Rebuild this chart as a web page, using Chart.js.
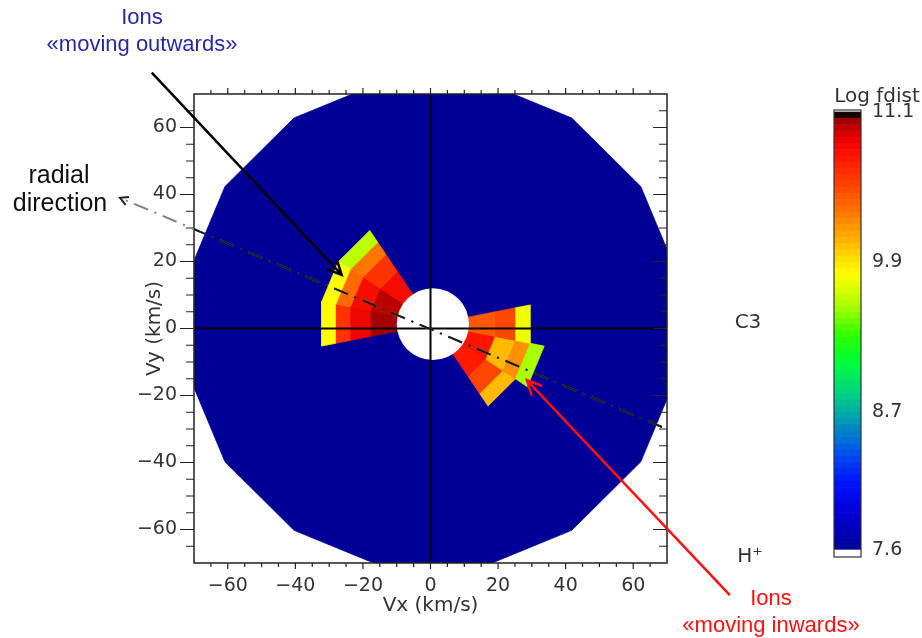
<!DOCTYPE html>
<html>
<head>
<meta charset="utf-8">
<script src="https://cdn.jsdelivr.net/npm/chart.js@4.4.0/dist/chart.umd.min.js"></script>
<style>
  body { margin: 0; background: #fff; }
  #wrap { position: relative; width: 922px; height: 638px; }
  #wrap canvas { position: absolute; left: 0; top: 0; }
</style>
</head>
<body>
<div id="wrap">
  <canvas id="vdist" width="922" height="638"></canvas>
  <canvas id="cbar" width="922" height="638"></canvas>
</div>
<script>
// velocity-space bins: azimuth edges (deg) and speed ring edges (km/s)
const phiEdges = [11.25, 33.75, 56.25, 78.75, 101.25, 123.75, 146.25, 168.75, 191.25,
                  213.75, 236.25, 258.75, 281.25, 303.75, 326.25, 348.75, 371.25];
const speedEdges = [10.7, 18.9, 25.0, 29.4, 33.6];
const coreSpeed = 10.7;
const speedMax = 74;
const center = [0.7, 1.3];

// log fdist per speed ring (inner -> outer); null = at the floor
const fdist124 = [10.8, 10.6, 10.3, 9.6];    // 123.75 - 146.25 deg
const fdist146 = [10.98, 10.8, 10.35, 9.8];  // 146.25 - 168.75 deg
const fdist169 = [11.02, 10.85, 10.6, 9.8];  // 168.75 - 191.25 deg
const fdist304 = [10.72, 10.5, 10.05, null]; // 303.75 - 326.25 deg
const fdist326 = [10.75, 10.05, 10.2, 9.55]; // 326.25 - 348.75 deg
const fdist349 = [10.42, 10.5, 9.75, null];  // 348.75 - 371.25 deg
const cellRows = [[5, fdist124], [6, fdist146], [7, fdist169], [13, fdist304], [14, fdist326], [15, fdist349]];

// axis ticks
const majorTicks = [-60, -40, -20, 0, 20, 40, 60];

// colour scale
const cbarMin = 7.6, cbarMax = 11.1;
const cbarTicks = [7.6, 8.7, 9.9, 11.1];
const cmapLevels = [7.6, 7.9, 8.15, 8.4, 8.65, 8.85, 9.1, 9.3, 9.55, 9.8, 10.0, 10.25, 10.5, 10.75, 10.9, 11.03, 11.07, 11.1];
const cmapColors = [[0,0,150],[0,0,215],[0,20,255],[0,90,230],[0,160,175],[0,210,130],[0,255,60],[40,255,0],
                    [170,255,0],[255,255,0],[255,200,0],[255,130,0],[255,70,0],[255,20,0],[230,0,0],[160,0,0],[30,0,0],[0,0,0]];

// radial direction and annotation arrows, in km/s
const radialFrom = [68.5, -29.4], radialTo = [-91.9, 39.0];
const outArrow = [[-82.5, 76.4], [-26.3, 16.0]];
const inArrow = [[88.6, -79.6], [28.5, -15.4]];

const idlFont = '"DejaVu Sans", sans-serif';
const textColor = '#333';
const tickFont = { family: idlFont, size: 19 };
const titleFont = { family: idlFont, size: 20 };

function colorFor(v) {
  v = Math.min(cbarMax, Math.max(cbarMin, v));
  let i = 0;
  while (i < cmapLevels.length - 2 && v > cmapLevels[i + 1]) i++;
  const t = (v - cmapLevels[i]) / (cmapLevels[i + 1] - cmapLevels[i]);
  const c = cmapColors[i].map((a, j) => Math.round(a + (cmapColors[i + 1][j] - a) * t));
  return `rgb(${c[0]},${c[1]},${c[2]})`;
}

function polar(r, deg) {
  const a = deg * Math.PI / 180;
  return [center[0] + r * Math.cos(a), center[1] + r * Math.sin(a)];
}

function toPx(chart, p) {
  return [chart.scales.x.getPixelForValue(p[0]), chart.scales.y.getPixelForValue(p[1])];
}

function fillPoly(ctx, chart, pts, color) {
  ctx.beginPath();
  pts.forEach((p, i) => {
    const [px, py] = toPx(chart, p);
    if (i === 0) ctx.moveTo(px, py); else ctx.lineTo(px, py);
  });
  ctx.closePath();
  ctx.fillStyle = color;
  ctx.strokeStyle = color;
  ctx.lineWidth = 0.8;
  ctx.fill();
  ctx.stroke();
}

function drawArrow(ctx, x0, y0, x1, y1, color, width, head) {
  const a = Math.atan2(y1 - y0, x1 - x0);
  ctx.strokeStyle = color;
  ctx.lineWidth = width;
  ctx.setLineDash([]);
  ctx.beginPath();
  ctx.moveTo(x0, y0);
  ctx.lineTo(x1, y1);
  ctx.moveTo(x1 - head * Math.cos(a - 0.45), y1 - head * Math.sin(a - 0.45));
  ctx.lineTo(x1, y1);
  ctx.lineTo(x1 - head * Math.cos(a + 0.45), y1 - head * Math.sin(a + 0.45));
  ctx.stroke();
}

function tickLabel(v) {
  return v < 0 ? '\u2212' + Math.abs(v) : String(v);
}

function radialLine(ctx, x0, y0, x1, y1, color) {
  ctx.strokeStyle = color;
  ctx.lineWidth = 2;
  ctx.setLineDash([15, 7, 2, 7]);
  ctx.beginPath();
  ctx.moveTo(x0, y0);
  ctx.lineTo(x1, y1);
  ctx.stroke();
  ctx.setLineDash([]);
}

const distPlugin = {
  id: 'vdist',
  beforeDatasetsDraw(chart) {
    const { ctx, chartArea: a } = chart;
    ctx.save();
    ctx.beginPath();
    ctx.rect(a.left, a.top, a.right - a.left, a.bottom - a.top);
    ctx.clip();

    // floor level over the whole measured disc
    const rim = phiEdges.slice(0, -1).map(p => polar(speedMax, p));
    fillPoly(ctx, chart, rim, colorFor(cbarMin));

    cellRows.forEach(([k, vals]) => {
      vals.forEach((v, i) => {
        if (v == null) return;
        const p0 = phiEdges[k], p1 = phiEdges[k + 1];
        const r0 = speedEdges[i], r1 = speedEdges[i + 1];
        fillPoly(ctx, chart, [polar(r0, p0), polar(r1, p0), polar(r1, p1), polar(r0, p1)], colorFor(v));
      });
    });

    // no data below the lowest energy step
    const [cx, cy] = toPx(chart, center);
    const rx = chart.scales.x.getPixelForValue(center[0] + coreSpeed) - cx;
    const ry = cy - chart.scales.y.getPixelForValue(center[1] + coreSpeed);
    ctx.fillStyle = '#fff';
    ctx.beginPath();
    ctx.ellipse(cx, cy, rx, ry, 0, 0, 2 * Math.PI);
    ctx.fill();

    // Vx = 0 and Vy = 0
    const x0 = chart.scales.x.getPixelForValue(0);
    const y0 = chart.scales.y.getPixelForValue(0);
    ctx.strokeStyle = '#000';
    ctx.lineWidth = 2;
    ctx.beginPath();
    ctx.moveTo(x0, a.top); ctx.lineTo(x0, a.bottom);
    ctx.moveTo(a.left, y0); ctx.lineTo(a.right, y0);
    ctx.stroke();
    ctx.restore();
  },
  afterDraw(chart) {
    const { ctx, chartArea: a, scales: { x, y } } = chart;
    ctx.save();

    // frame and ticks
    ctx.strokeStyle = '#222';
    ctx.lineWidth = 1.5;
    ctx.strokeRect(a.left, a.top, a.right - a.left, a.bottom - a.top);
    ctx.lineWidth = 1.2;
    ctx.beginPath();
    for (let v = -65; v <= 65; v += 5) {
      const major = v % 20 === 0;
      const px = x.getPixelForValue(v), py = y.getPixelForValue(v);
      const tb = major ? 6 : 4, tl = major ? 14 : 8;
      ctx.moveTo(px, a.bottom); ctx.lineTo(px, a.bottom + tb);
      ctx.moveTo(px, a.top); ctx.lineTo(px, a.top - tb);
      ctx.moveTo(a.left, py); ctx.lineTo(a.left - tl, py);
      ctx.moveTo(a.right, py); ctx.lineTo(a.right - tl, py);
    }
    ctx.stroke();

    // radial direction: grey outside the frame, dark inside
    const [rx0, ry0] = toPx(chart, radialFrom);
    const [rx1, ry1] = toPx(chart, radialTo);
    radialLine(ctx, rx0, ry0, rx1, ry1, '#808080');
    ctx.save();
    ctx.beginPath();
    ctx.rect(a.left, a.top, a.right - a.left, a.bottom - a.top);
    ctx.clip();
    radialLine(ctx, rx0, ry0, rx1, ry1, '#1a1a1a');
    ctx.restore();
    const ra = Math.atan2(ry1 - ry0, rx1 - rx0);
    ctx.strokeStyle = '#222';
    ctx.lineWidth = 2;
    ctx.beginPath();
    ctx.moveTo(rx1 - 9 * Math.cos(ra - 0.5), ry1 - 9 * Math.sin(ra - 0.5));
    ctx.lineTo(rx1, ry1);
    ctx.lineTo(rx1 - 9 * Math.cos(ra + 0.5), ry1 - 9 * Math.sin(ra + 0.5));
    ctx.stroke();

    // ion population arrows
    const [ox0, oy0] = toPx(chart, outArrow[0]);
    const [ox1, oy1] = toPx(chart, outArrow[1]);
    drawArrow(ctx, ox0, oy0, ox1, oy1, '#000', 2.5, 16);
    const [ix0, iy0] = toPx(chart, inArrow[0]);
    const [ix1, iy1] = toPx(chart, inArrow[1]);
    drawArrow(ctx, ix0, iy0, ix1, iy1, '#ff1010', 2.5, 16);

    // labels
    ctx.textAlign = 'center';
    ctx.textBaseline = 'middle';
    ctx.font = '22px "Liberation Sans", Arial, sans-serif';
    ctx.fillStyle = '#2828a6';
    ctx.fillText('Ions', 142, 18);
    ctx.fillText('«moving outwards»', 142, 45);
    ctx.fillStyle = '#ff1010';
    ctx.fillText('Ions', 771, 599);
    ctx.fillText('«moving inwards»', 771, 626);
    ctx.font = '25px "Liberation Sans", Arial, sans-serif';
    ctx.fillStyle = '#111';
    ctx.fillText('radial', 59, 176);
    ctx.fillText('direction', 60, 204);

    ctx.font = `20px ${idlFont}`;
    ctx.fillStyle = textColor;
    ctx.fillText('C3', 748, 323);
    ctx.fillText('H\u207A', 750, 557);
    ctx.fillText('Log fdist', 877, 97);
    ctx.restore();
  }
};

new Chart(document.getElementById('vdist'), {
  type: 'scatter',
  data: { datasets: [] },
  options: {
    responsive: false,
    animation: false,
    events: [],
    layout: { padding: { left: 110, top: 94, right: 255, bottom: 18 } },
    plugins: { legend: { display: false }, tooltip: { enabled: false } },
    scales: {
      x: {
        type: 'linear', position: 'bottom', min: -70, max: 70,
        afterBuildTicks: s => { s.ticks = majorTicks.map(v => ({ value: v })); },
        afterFit: s => { s.height = 57; },
        grid: { display: false, drawTicks: false },
        border: { display: false },
        ticks: { callback: tickLabel, padding: 12, maxRotation: 0, autoSkip: false,
                 font: tickFont, color: textColor },
        title: { display: true, text: 'Vx (km/s)', padding: { top: 0, bottom: 2 },
                 font: titleFont, color: textColor }
      },
      y: {
        type: 'linear', position: 'left', min: -70, max: 70,
        afterBuildTicks: s => { s.ticks = majorTicks.map(v => ({ value: v })); },
        afterFit: s => { s.width = 84; },
        grid: { display: false, drawTicks: false },
        border: { display: false },
        ticks: { callback: tickLabel, padding: 17, autoSkip: false,
                 font: tickFont, color: textColor },
        title: { display: true, text: 'Vy (km/s)', padding: { top: 33, bottom: 0 },
                 font: titleFont, color: textColor }
      }
    }
  },
  plugins: [distPlugin]
});

// colour bar: one floating bar per colour step, plus the white under-range box
const cbarStep = 0.05;
const cbarBands = [];
for (let i = 0; i < Math.round((cbarMax - cbarMin) / cbarStep); i++) {
  const lo = cbarMin + i * cbarStep;
  cbarBands.push([lo, lo + cbarStep]);
}
const cbarDatasets = [{ data: [[7.544, cbarMin]], backgroundColor: '#fff' }]
  .concat(cbarBands.map(b => ({ data: [b], backgroundColor: colorFor((b[0] + b[1]) / 2) })));

const cbarFrame = {
  id: 'cbarFrame',
  afterDraw(chart) {
    const { ctx, chartArea: a } = chart;
    ctx.save();
    ctx.strokeStyle = '#333';
    ctx.lineWidth = 1.2;
    ctx.strokeRect(a.left, a.top, a.right - a.left, a.bottom - a.top);
    ctx.restore();
  }
};

new Chart(document.getElementById('cbar'), {
  type: 'bar',
  data: { labels: [''], datasets: cbarDatasets },
  options: {
    responsive: false,
    animation: false,
    events: [],
    layout: { padding: { left: 834, top: 110, right: 0, bottom: 81 } },
    datasets: { bar: { grouped: false, barPercentage: 1, categoryPercentage: 1, borderWidth: 0 } },
    plugins: { legend: { display: false }, tooltip: { enabled: false } },
    scales: {
      x: { display: false },
      y: {
        position: 'right', min: 7.544, max: 11.116,
        afterBuildTicks: s => { s.ticks = cbarTicks.map(v => ({ value: v })); },
        afterFit: s => { s.width = 61; },
        grid: { display: false, drawTicks: false },
        border: { display: false },
        ticks: { padding: 11, autoSkip: false, callback: v => v.toFixed(1),
                 font: tickFont, color: textColor }
      }
    }
  },
  plugins: [cbarFrame]
});
</script>
</body>
</html>
